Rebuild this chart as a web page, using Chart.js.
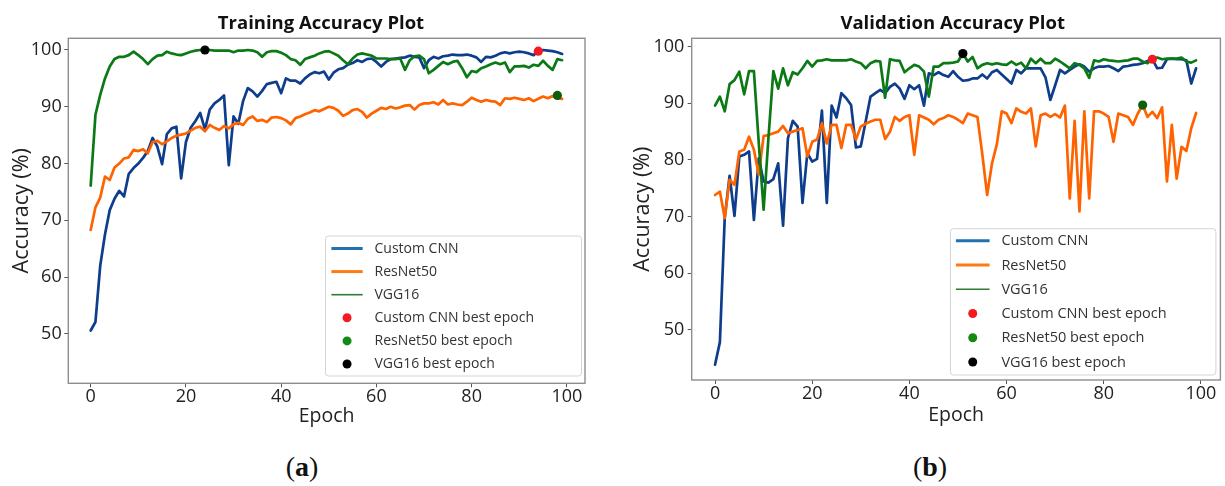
<!DOCTYPE html>
<html><head><meta charset="utf-8">
<script src="https://cdn.jsdelivr.net/npm/chart.js@4.4.1/dist/chart.umd.min.js"></script>
<style>
html,body{margin:0;padding:0;background:#fff;width:1225px;height:486px;overflow:hidden;}
.wrap{position:absolute;top:0;width:610px;height:440px;}
#w1{left:0px} #w2{left:615px}
.cap{position:absolute;top:451px;height:32px;line-height:32px;font-family:'Liberation Serif','DejaVu Serif',serif;font-size:28px;color:#111;transform:translateX(-50%);white-space:nowrap;}
</style></head><body>
<div class="wrap" id="w1"><canvas id="c1"></canvas></div>
<div class="wrap" id="w2"><canvas id="c2"></canvas></div>
<div class="cap" style="left:302px">(<b>a</b>)</div>
<div class="cap" style="left:930px">(<b>b</b>)</div>
<script>
// ---------- data ----------
const epochs = [0,1,2,3,4,5,6,7,8,9,10,11,12,13,14,15,16,17,18,19,20,21,22,23,24,25,26,27,28,29,30,31,32,33,34,35,36,37,38,39,40,41,42,43,44,45,46,47,48,49,50,51,52,53,54,55,56,57,58,59,60,61,62,63,64,65,66,67,68,69,70,71,72,73,74,75,76,77,78,79,80,81,82,83,84,85,86,87,88,89,90,91,92,93,94,95,96,97,98,99];
const xTicks = [0,20,40,60,80,100];
const yTicks = [50,60,70,80,90,100];
const seriesNames = ['Custom CNN','ResNet50','VGG16'];
const bestNames = ['Custom CNN best epoch','ResNet50 best epoch','VGG16 best epoch'];

const trainCNN = [50.6,52.1,62.0,67.5,71.8,73.8,75.2,74.2,78.2,79.2, 80.0,81.0,82.2,84.5,83.0,79.9,85.2,86.2,86.5,77.4, 83.8,86.3,87.5,88.9,86.0,89.5,90.6,91.2,92.0,79.7, 88.3,87.0,91.0,93.3,92.7,91.8,92.8,94.0,94.2,94.4, 92.4,95.0,94.6,94.6,94.1,95.0,95.7,96.1,95.9,96.2, 94.8,96.0,96.6,96.8,97.4,97.7,98.2,97.9,98.4,98.5, 97.9,97.1,97.9,98.4,98.5,98.6,98.7,99.0,98.8,98.7, 96.8,98.2,98.8,98.5,98.9,99.0,99.2,99.1,99.1,99.2, 99.0,98.7,97.9,98.8,98.7,99.0,99.4,99.6,99.4,99.6, 99.7,99.6,99.4,99.1,99.8,100.0,99.9,99.8,99.6,99.3];
const trainResNet = [68.3,72.3,74.0,77.7,77.1,79.3,80.0,80.9,81.1,82.4, 82.2,82.5,81.8,83.8,84.0,83.4,83.9,84.5,84.9,85.1, 85.3,85.8,86.3,86.5,85.7,86.8,86.3,85.9,86.6,86.2, 86.9,87.2,86.8,87.9,88.3,87.5,87.7,87.3,88.1,88.2, 88.0,87.6,86.9,88.0,88.3,88.7,89.0,89.4,89.2,89.6, 90.0,89.8,89.3,88.4,88.8,89.4,89.6,89.1,88.1,88.8, 89.3,89.8,89.6,90.0,89.7,89.9,90.2,90.3,89.5,90.3, 90.6,90.6,90.8,90.4,91.2,90.4,90.6,90.4,90.3,90.9, 91.6,91.2,90.9,91.2,91.0,90.9,90.3,91.5,91.4,91.6, 91.4,91.2,91.5,91.0,91.4,91.8,91.5,91.9,91.5,91.4];
const trainVGG = [76.1,88.6,92.1,95.0,97.1,98.4,98.8,98.8,99.1,99.7, 99.1,98.4,97.5,98.4,99.0,99.1,99.7,99.4,99.2,99.1, 99.4,99.7,99.9,100.0,100.0,100.0,99.9,99.9,99.9,99.9, 99.6,99.9,99.9,100.0,99.9,99.6,98.8,99.6,99.8,99.8, 99.5,99.1,98.4,98.2,97.4,98.4,98.7,99.0,99.4,99.7, 99.8,99.4,99.0,98.2,97.5,98.5,99.2,99.4,99.2,99.0, 98.5,98.5,98.5,98.4,98.4,98.5,96.5,98.2,98.9,99.0, 98.4,95.9,96.5,97.2,97.9,97.5,97.9,98.1,96.8,95.2, 96.3,96.1,96.8,97.1,97.5,97.8,97.5,97.8,96.1,97.1, 97.1,97.2,96.9,97.4,97.2,98.1,97.2,96.5,98.4,98.2];
const trainBestEpochs = [94, 98, 24];
const trainBestValues = [99.8, 92.0, 100.0];

const valCNN = [43.8,47.8,69.8,77.2,70.1,80.6,80.9,81.5,69.4,80.3, 76.2,76.0,76.6,79.4,68.4,83.8,86.9,85.9,72.4,81.2, 79.7,80.2,88.7,72.4,89.6,87.5,91.8,90.9,89.7,82.2, 82.4,86.8,91.2,91.8,92.4,91.8,92.9,93.5,92.6,90.8, 93.2,92.5,93.2,89.6,95.3,95.0,95.5,95.0,94.7,95.7, 94.7,94.0,94.1,94.4,94.4,95.1,94.4,95.5,95.9,95.1, 94.3,93.5,95.9,95.3,96.2,96.2,96.2,96.2,94.6,90.6, 93.2,95.9,95.3,95.9,96.5,96.9,96.5,95.6,96.2,96.5, 96.5,96.6,96.2,95.7,96.5,96.6,96.8,96.9,97.1,97.5, 97.8,96.2,96.3,97.8,97.9,97.8,97.8,97.6,93.5,96.2];
const valResNet = [73.8,74.4,69.7,76.5,75.6,81.5,81.8,84.1,81.8,77.4, 84.2,84.4,84.7,85.0,86.0,84.7,85.0,85.3,85.6,80.6, 83.2,83.6,86.5,82.9,86.2,86.2,82.1,86.2,86.2,83.6, 85.9,86.4,86.8,87.1,87.1,83.7,85.0,87.6,86.9,87.6, 87.9,80.9,87.9,87.5,87.1,86.3,87.1,87.4,87.9,87.6, 87.1,86.5,88.2,87.9,87.6,81.0,73.8,79.4,82.8,88.6, 88.2,86.5,89.1,88.5,88.2,89.1,82.4,87.9,88.2,87.6, 88.1,87.5,89.6,73.2,86.9,70.9,88.6,73.2,88.6,88.6, 88.2,87.6,83.2,88.2,87.9,87.6,86.2,88.2,89.7,87.6, 88.5,87.4,89.3,76.2,86.2,76.7,82.3,81.6,85.6,88.3];
const valVGG = [89.6,91.2,88.6,93.4,94.1,95.6,91.6,95.7,95.7,83.0, 71.2,84.0,95.7,92.6,96.2,93.2,95.5,95.1,96.2,97.5, 96.5,97.5,97.6,97.8,97.6,97.6,97.6,97.6,97.8,97.4, 97.1,96.2,97.1,97.5,97.4,91.0,97.8,97.6,97.5,95.5, 96.2,96.8,96.5,95.6,91.2,96.5,96.5,97.1,97.1,97.2, 97.4,98.8,97.4,98.2,96.2,96.8,97.1,96.9,97.1,96.9, 96.8,97.4,96.8,97.2,96.2,97.9,97.1,97.9,97.1,97.1, 97.9,97.4,96.8,96.2,97.1,96.8,96.2,94.5,97.6,97.4, 97.8,97.6,97.5,97.4,97.5,97.6,97.9,97.9,97.4,97.1, 97.9,98.1,97.8,97.9,97.9,97.9,98.1,97.4,97.2,97.6];
const valBestEpochs = [90, 88, 51];
const valBestValues = [97.8, 89.7, 98.8];

// ---------- styles ----------
const FONT = "'Open Sans', 'Noto Sans', sans-serif";
const lineColors = ['#0d3d8c', '#ff6300', '#0b7a16'];
const legendLineColors = ['#2272b0', '#ff7a14', '#2f7d32'];
const legendLineWidths = [3, 3, 1.6];
const bestColors = ['#f51a22', '#0b5f0f', '#000000'];
const legendBestColors = ['#f51a22', '#138a13', '#000000'];

const decor = {
  id: 'decor',
  afterDraw(chart, args, o) {
    const ctx = chart.ctx, ca = chart.chartArea;
    ctx.save();
    ctx.strokeStyle = '#8e8e8e';
    ctx.lineWidth = 1.4;
    ctx.strokeRect(ca.left, ca.top, ca.right - ca.left, ca.bottom - ca.top);
    // title
    ctx.fillStyle = '#111';
    ctx.font = 'bold ' + o.titleSize + 'px ' + FONT;
    ctx.textAlign = 'center';
    ctx.textBaseline = 'middle';
    ctx.fillText(o.title, o.titleX, o.titleY);
    // legend
    const L = o.legend;
    ctx.beginPath();
    const r = 3;
    ctx.moveTo(L.x + r, L.y);
    ctx.arcTo(L.x + L.w, L.y, L.x + L.w, L.y + L.h, r);
    ctx.arcTo(L.x + L.w, L.y + L.h, L.x, L.y + L.h, r);
    ctx.arcTo(L.x, L.y + L.h, L.x, L.y, r);
    ctx.arcTo(L.x, L.y, L.x + L.w, L.y, r);
    ctx.closePath();
    ctx.fillStyle = 'rgba(255,255,255,0.85)';
    ctx.fill();
    ctx.strokeStyle = '#d4d4d4';
    ctx.lineWidth = 1;
    ctx.stroke();
    ctx.font = L.fontSize + 'px ' + FONT;
    ctx.textAlign = 'left';
    ctx.textBaseline = 'middle';
    const labels = seriesNames.concat(bestNames);
    labels.forEach((lab, i) => {
      const yy = L.row0 + i * L.rowStep;
      if (i < 3) {
        ctx.strokeStyle = legendLineColors[i];
        ctx.lineWidth = legendLineWidths[i];
        ctx.beginPath();
        ctx.moveTo(L.s0, yy); ctx.lineTo(L.s1, yy);
        ctx.stroke();
      } else {
        ctx.fillStyle = legendBestColors[i - 3];
        ctx.beginPath();
        ctx.arc((L.s0 + L.s1) / 2, yy, 4.5, 0, Math.PI * 2);
        ctx.fill();
      }
      ctx.fillStyle = '#333';
      ctx.fillText(lab, L.tx, yy + 0.5);
    });
    ctx.restore();
  }
};

function lineSet(label, values, color, order) {
  return {
    label, order,
    data: epochs.map((e, i) => ({x: e, y: values[i]})),
    borderColor: color, borderWidth: 2.7, pointRadius: 0, fill: false, tension: 0,
    borderJoinStyle: 'round', borderCapStyle: 'round'
  };
}
function bestSet(label, ep, val, color) {
  return {
    type: 'scatter', label, order: 0,
    data: [{x: ep, y: val}],
    backgroundColor: color, borderWidth: 0, pointRadius: 4.6, showLine: false
  };
}

function makeChart(id, series, bestE, bestV, c) {
  const datasets = [
    lineSet(seriesNames[0], series[0], lineColors[0], 3),
    lineSet(seriesNames[1], series[1], lineColors[1], 2),
    lineSet(seriesNames[2], series[2], lineColors[2], 1),
    bestSet(bestNames[0], bestE[0], bestV[0], bestColors[0]),
    bestSet(bestNames[1], bestE[1], bestV[1], bestColors[1]),
    bestSet(bestNames[2], bestE[2], bestV[2], bestColors[2])
  ];
  return new Chart(document.getElementById(id), {
    type: 'line',
    data: {datasets},
    options: {
      responsive: true, maintainAspectRatio: false, animation: false, devicePixelRatio: 1,
      layout: {padding: {left: 0, top: c.top, right: c.padRight, bottom: 0}},
      plugins: {legend: {display: false}, tooltip: {enabled: false}, decor: c.decor},
      scales: {
        x: {
          type: 'linear', min: c.xMin, max: c.xMax,
          afterBuildTicks: a => { a.ticks = xTicks.map(v => ({value: v})); },
          afterFit: a => { a.height = c.xAxisH; },
          grid: {display: true, drawOnChartArea: false, drawTicks: true, tickLength: 4, color: '#555'},
          border: {display: false},
          ticks: {font: {family: FONT, size: 18, lineHeight: 1}, color: '#222', padding: c.xPad, maxRotation: 0, autoSkip: false},
          title: {display: true, text: 'Epoch', font: {family: FONT, size: 19.5}, color: '#222', padding: {top: 0, bottom: c.xTitlePad}}
        },
        y: {
          type: 'linear', min: c.yMin, max: c.yMax,
          afterBuildTicks: a => { a.ticks = yTicks.map(v => ({value: v})); },
          afterFit: a => { a.width = c.yAxisW; },
          grid: {display: true, drawOnChartArea: false, drawTicks: true, tickLength: 4, color: '#555'},
          border: {display: false},
          ticks: {font: {family: FONT, size: 18}, color: '#222', padding: c.yPad, autoSkip: false},
          title: {display: true, text: 'Accuracy (%)', font: {family: FONT, size: 21.5}, color: '#222', padding: {top: c.yTitlePad, bottom: 0}}
        }
      }
    },
    plugins: [decor]
  });
}

makeChart('c1', [trainCNN, trainResNet, trainVGG], trainBestEpochs, trainBestValues, {
  top: 38.3, padRight: 25, xAxisH: 56.7, yAxisW: 68.3,
  xMin: -4.7, xMax: 103.8, yMin: 41.3, yMax: 102.06,
  xPad: 1, yPad: 2.6, xTitlePad: 12.3, yTitlePad: 8.7,
  decor: {title: 'Training Accuracy Plot', titleSize: 18.5, titleX: 321, titleY: 24,
    legend: {x: 325.5, y: 236, w: 256, h: 140, row0: 248.5, rowStep: 23.1, s0: 331.4, s1: 362.7, tx: 374.5, fontSize: 14}}
});
makeChart('c2', [valCNN, valResNet, valVGG], valBestEpochs, valBestValues, {
  top: 38.3, padRight: 3.2, xAxisH: 60, yAxisW: 76.7,
  xMin: -4.8, xMax: 104.0, yMin: 41.1, yMax: 101.5,
  xPad: 1, yPad: 3.4, xTitlePad: 13.3, yTitlePad: 15.4,
  decor: {title: 'Validation Accuracy Plot', titleSize: 18.5, titleX: 337.7, titleY: 23.5,
    legend: {x: 335.4, y: 228.7, w: 265.5, h: 146.3, row0: 240.7, rowStep: 24.26, s0: 340.9, s1: 374.6, tx: 386.4, fontSize: 14.5}}
});
</script>
</body></html>
